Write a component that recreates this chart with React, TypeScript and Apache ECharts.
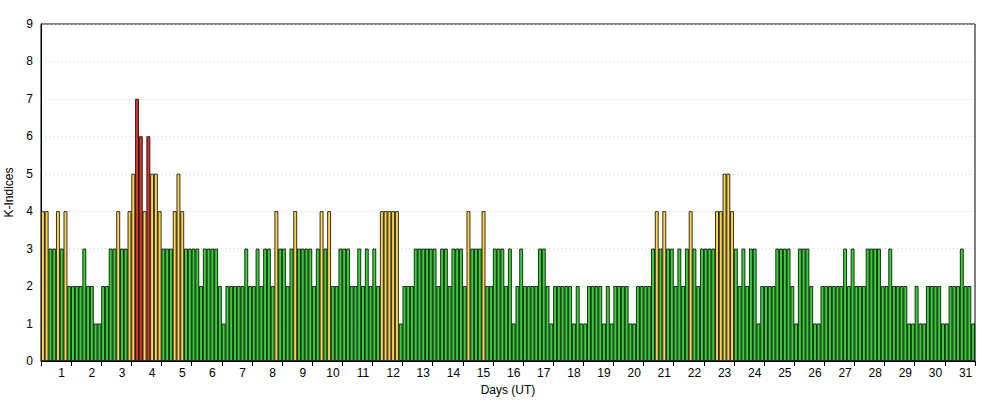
import React, { useEffect, useRef } from "react";
import * as echarts from "echarts";

// K-index values, 8 three-hour intervals per day, days 1..31
const kDay01 = [4, 4, 3, 3, 4, 3, 4, 2];
const kDay02 = [2, 2, 2, 3, 2, 2, 1, 1];
const kDay03 = [2, 2, 3, 3, 4, 3, 3, 4];
const kDay04 = [5, 7, 6, 4, 6, 5, 5, 4];
const kDay05 = [3, 3, 3, 4, 5, 4, 3, 3];
const kDay06 = [3, 3, 2, 3, 3, 3, 3, 2];
const kDay07 = [1, 2, 2, 2, 2, 2, 3, 2];
const kDay08 = [2, 3, 2, 3, 3, 2, 4, 3];
const kDay09 = [3, 2, 3, 4, 3, 3, 3, 3];
const kDay10 = [2, 3, 4, 3, 4, 2, 2, 3];
const kDay11 = [3, 3, 2, 2, 3, 2, 3, 2];
const kDay12 = [3, 2, 4, 4, 4, 4, 4, 1];
const kDay13 = [2, 2, 2, 3, 3, 3, 3, 3];
const kDay14 = [3, 2, 3, 3, 2, 3, 3, 3];
const kDay15 = [2, 4, 3, 3, 3, 4, 2, 2];
const kDay16 = [3, 3, 3, 2, 3, 1, 2, 3];
const kDay17 = [2, 2, 2, 2, 3, 3, 2, 1];
const kDay18 = [2, 2, 2, 2, 2, 1, 2, 1];
const kDay19 = [1, 2, 2, 2, 2, 1, 2, 1];
const kDay20 = [2, 2, 2, 2, 1, 1, 2, 2];
const kDay21 = [2, 2, 3, 4, 3, 4, 3, 3];
const kDay22 = [2, 3, 2, 3, 4, 3, 2, 3];
const kDay23 = [3, 3, 3, 4, 4, 5, 5, 4];
const kDay24 = [3, 2, 3, 2, 3, 3, 1, 2];
const kDay25 = [2, 2, 2, 3, 3, 3, 3, 2];
const kDay26 = [1, 3, 3, 3, 2, 1, 1, 2];
const kDay27 = [2, 2, 2, 2, 2, 3, 2, 3];
const kDay28 = [2, 2, 2, 3, 3, 3, 3, 2];
const kDay29 = [2, 3, 2, 2, 2, 2, 1, 1];
const kDay30 = [2, 1, 1, 2, 2, 2, 2, 1];
const kDay31 = [1, 2, 2, 2, 3, 2, 2, 1];

const days = [
  kDay01, kDay02, kDay03, kDay04, kDay05, kDay06, kDay07, kDay08,
  kDay09, kDay10, kDay11, kDay12, kDay13, kDay14, kDay15, kDay16,
  kDay17, kDay18, kDay19, kDay20, kDay21, kDay22, kDay23, kDay24,
  kDay25, kDay26, kDay27, kDay28, kDay29, kDay30, kDay31,
];

const yTicks = ["0", "1", "2", "3", "4", "5", "6", "7", "8", "9"];

const GREEN = "#33d433";
const YELLOW = "#ffd54f";
const RED = "#dc3228";

function colorFor(v: number) {
  if (v >= 6) return RED;
  if (v >= 4) return YELLOW;
  return GREEN;
}

export default function App() {
  const ref = useRef<HTMLDivElement>(null);

  useEffect(() => {
    document.body.style.margin = "0";
    if (!ref.current) return;
    const chart = echarts.init(ref.current, null, { renderer: "svg" });

    const categories: string[] = [];
    const values: any[] = [];
    days.forEach((d, di) => {
      d.forEach((v, i) => {
        categories.push(`${di + 1}-${i}`);
        values.push({ value: v, itemStyle: { color: colorFor(v) } });
      });
    });

    const font = "Liberation Sans, Arial, sans-serif";

    chart.setOption({
      animation: false,
      grid: {
        left: 41,
        right: 25,
        top: 24,
        bottom: 39,
        show: true,
        borderColor: "#000",
        borderWidth: 1,
        backgroundColor: "transparent",
        outerBoundsMode: "none",
        containLabel: false,
      },
      xAxis: {
        type: "category",
        data: categories,
        boundaryGap: true,
        name: "Days (UT)",
        nameLocation: "middle",
        nameGap: 22,
        nameTextStyle: { color: "#000", fontSize: 12, fontFamily: font },
        axisLine: { show: true, lineStyle: { color: "#000", width: 1 } },
        axisTick: {
          show: true,
          alignWithLabel: false,
          interval: (index: number) => index % 8 === 0,
          length: 5,
          lineStyle: { color: "#000" },
        },
        axisLabel: {
          interval: (index: number) => index % 8 === 5,
          formatter: (val: string) => val.split("-")[0],
          color: "#000",
          fontSize: 12,
          fontFamily: font,
          margin: 6,
        },
        splitLine: { show: false },
      },
      yAxis: {
        type: "value",
        min: 0,
        max: 9,
        interval: 1,
        name: "K-Indices",
        nameLocation: "middle",
        nameGap: 24,
        nameRotate: 90,
        nameTextStyle: { color: "#000", fontSize: 12, fontFamily: font },
        axisLine: { show: true, lineStyle: { color: "#000", width: 1 } },
        axisTick: { show: false },
        axisLabel: {
          color: "#000",
          fontSize: 12,
          fontFamily: font,
          margin: 8,
          formatter: (v: number) => yTicks[v] ?? String(v),
        },
        splitLine: {
          show: true,
          lineStyle: { color: "#cfcfcf", type: [1, 3], width: 1 },
        },
      },
      series: [
        {
          type: "bar",
          data: values,
          barCategoryGap: "0%",
          barGap: "0%",
          itemStyle: { borderColor: "#000", borderWidth: 0.8 },
        },
      ],
    });

    return () => chart.dispose();
  }, []);

  return <div ref={ref} style={{ width: 1000, height: 400 }} />;
}
